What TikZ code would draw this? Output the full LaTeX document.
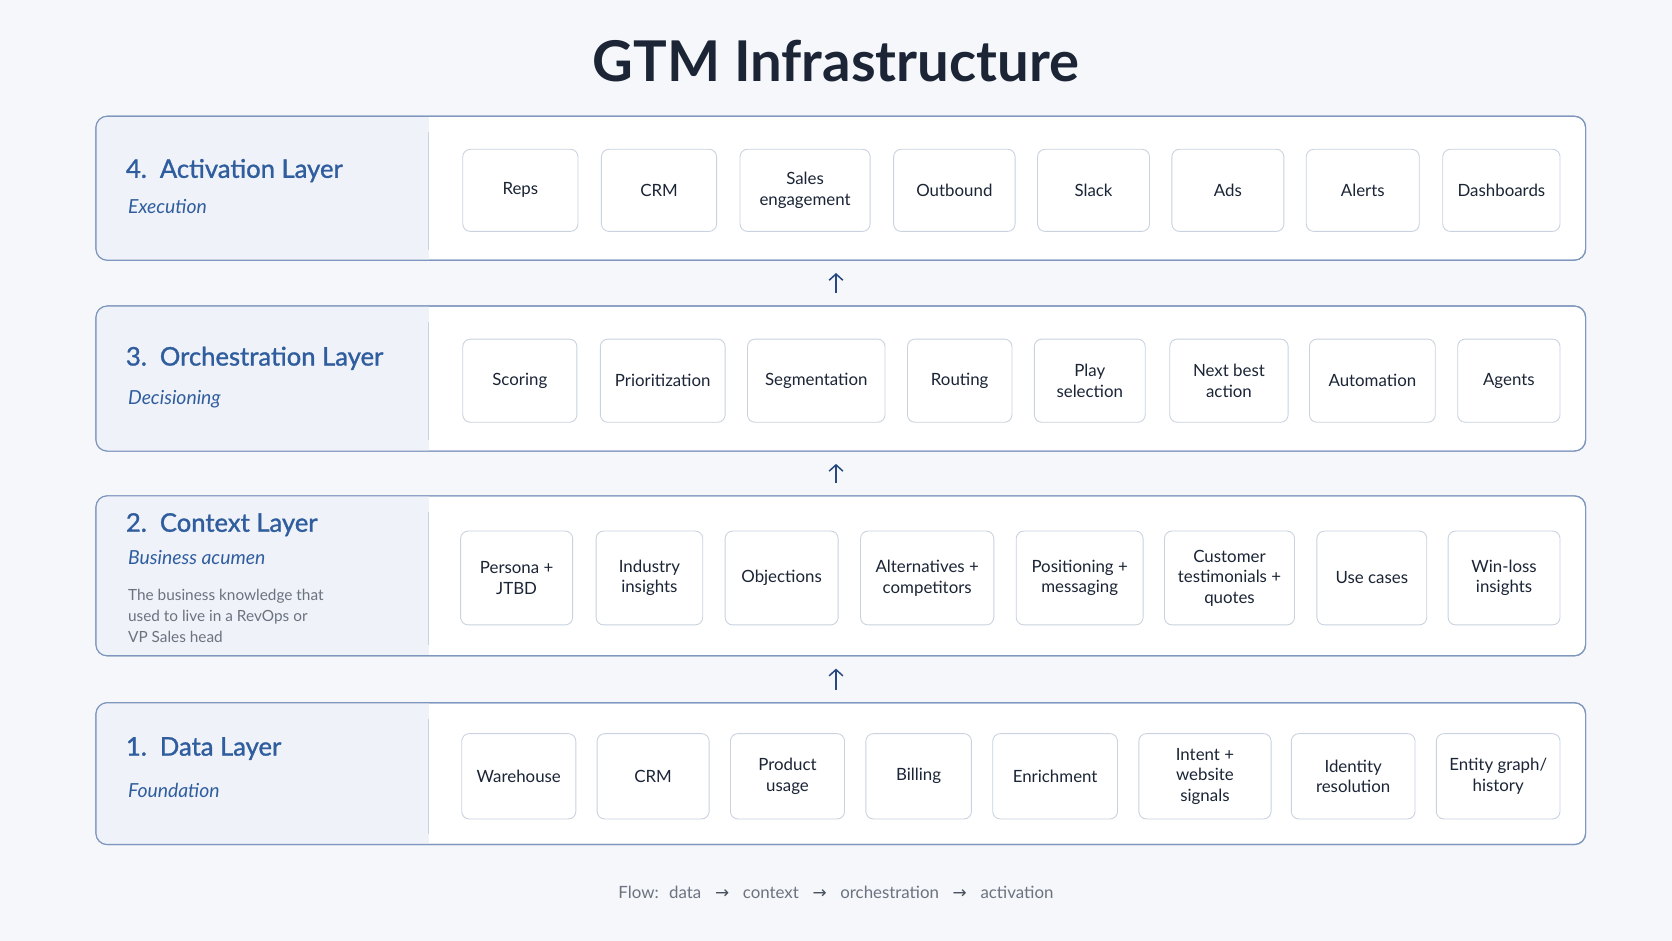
\documentclass[tikz,border=0pt]{standalone}
\usepackage{fontspec}
\setmainfont{Lato}
\newfontfamily\semib[FakeBold=1.2]{Lato}
\newfontfamily\symf{DejaVu Sans}
\usetikzlibrary{arrows.meta}
\definecolor{bg}{HTML}{F5F7FA}
\definecolor{navy}{HTML}{1B2536}
\definecolor{lblue}{HTML}{2F5D9E}
\definecolor{lborder}{HTML}{7F97BE}
\definecolor{panel}{HTML}{EFF2F8}
\definecolor{boxb}{HTML}{C9D2DE}
\definecolor{graytxt}{HTML}{6B7380}
\begin{document}
\begin{tikzpicture}[x=0.03cm,y=-0.03cm,
  layer/.style={draw=lborder,line width=0.9pt,rounded corners=9pt,fill=white},
  item/.style={draw=boxb,line width=0.7pt,rounded corners=6pt,fill=white,align=center,font=\fontsize{13.5}{16.5}\selectfont,text=navy,inner sep=0pt},
  ltitle/.style={anchor=west,text=lblue,font=\fontsize{20.5}{24}\selectfont\semib},
  lsub/.style={anchor=west,text=lblue,font=\fontsize{15.5}{18}\selectfont\itshape},
  up/.style={-{Straight Barb[length=5pt,width=11pt]},line width=1.2pt,draw=lblue!80!black}]
\fill[bg] (0,0) rectangle (1568,882);
\useasboundingbox (0,0) rectangle (1568,882);
\node[font=\fontsize{45}{50}\selectfont\bfseries,text=navy] (title) at (784,57) {GTM Infrastructure};
% layers
\foreach \n/\t/\b in {L4/109/244,L3/287/423,L2/465/615,L1/659/792}{
  \draw[layer] (90,\t) rectangle (1487,\b);
  \begin{scope}
    \clip[rounded corners=9pt] (90,\t) rectangle (1487,\b);
    \fill[panel] (90,\t) rectangle (402,\b);
  \end{scope}
  \draw[layer,fill=none] (90,\t) rectangle (1487,\b);
  \draw[boxb,line width=0.8pt] (402,\t+15) -- (402,\b-10);
  \coordinate (\n top) at (784,\t);
  \coordinate (\n bot) at (784,\b);
}
\node[ltitle] (t4) at (114,160) {4.\, Activation Layer};
\node[lsub] (s4) at (116,194) {Execution};
\node[ltitle] (t3) at (114,336) {3.\, Orchestration Layer};
\node[lsub] (s3) at (116,374) {Decisioning};
\node[ltitle] (t2) at (114,492) {2.\, Context Layer};
\node[lsub] (s2) at (116,523) {Business acumen};
\node[anchor=north west,text=graytxt,align=left,font=\fontsize{12.3}{17}\selectfont] (d2) at (116,548) {The business knowledge that\\used to live in a RevOps or\\VP Sales head};
\node[ltitle] (t1) at (114,702) {1.\, Data Layer};
\node[lsub] (s1) at (116,741) {Foundation};
% items
\foreach \nm/\a/\b/\txt in {a1/434/542/Reps,a2/564/672/CRM,a3/694/816/{Sales\\engagement},a4/838/952/Outbound,a5/973/1078/Slack,a6/1099/1204/Ads,a7/1225/1331/Alerts,a8/1353/1463/Dashboards}
  \node[item,minimum width=(\b-\a)*0.03cm,minimum height=77*0.03cm] (\nm) at ({(\a+\b)/2},178.5) {\txt};
\foreach \nm/\a/\b/\txt in {o1/434/541/Scoring,o2/563/680/Prioritization,o3/701/830/Segmentation,o4/851/949/Routing,o5/970/1074/{Play\\selection},o6/1097/1208/{Next best\\action},o7/1228/1346/Automation,o8/1367/1463/Agents}
  \node[item,minimum width=(\b-\a)*0.03cm,minimum height=78*0.03cm] (\nm) at ({(\a+\b)/2},357) {\txt};
\foreach \nm/\a/\b/\txt in {c1/432/537/{Persona +\\JTBD},c2/559/659/{Industry\\insights},c3/680/786/Objections,c4/807/932/{Alternatives +\\competitors},c5/953/1072/{Positioning +\\messaging},c6/1092/1214/{Customer\\testimonials +\\quotes},c7/1235/1338/Use cases,c8/1358/1463/{Win-loss\\insights}}
  \node[item,minimum width=(\b-\a)*0.03cm,minimum height=88*0.03cm] (\nm) at ({(\a+\b)/2},542) {\txt};
\foreach \nm/\a/\b/\txt in {d1/433/540/Warehouse,d2x/560/665/CRM,d3/685/792/{Product\\usage},d4/812/911/Billing,d5/931/1048/Enrichment,d6/1068/1192/{Intent +\\website\\signals},d7/1211/1327/{Identity\\resolution},d8/1347/1463/{Entity graph/\\history}}
  \node[item,minimum width=(\b-\a)*0.03cm,minimum height=80*0.03cm] (\nm) at ({(\a+\b)/2},728) {\txt};
% arrows
\draw[up] ([yshift=0.36cm]L1top) -- ([yshift=-0.36cm]L2bot);
\draw[up] ([yshift=0.36cm]L2top) -- ([yshift=-0.36cm]L3bot);
\draw[up] ([yshift=0.36cm]L3top) -- ([yshift=-0.36cm]L4bot);
\node[text=graytxt,font=\fontsize{13.5}{16}\selectfont] (flow) at (784,837) {Flow:\; data\;\; {\symf\color{navy!80}→}\;\; context\;\; {\symf\color{navy!80}→}\;\; orchestration\;\; {\symf\color{navy!80}→}\;\; activation};
\end{tikzpicture}
\end{document}
